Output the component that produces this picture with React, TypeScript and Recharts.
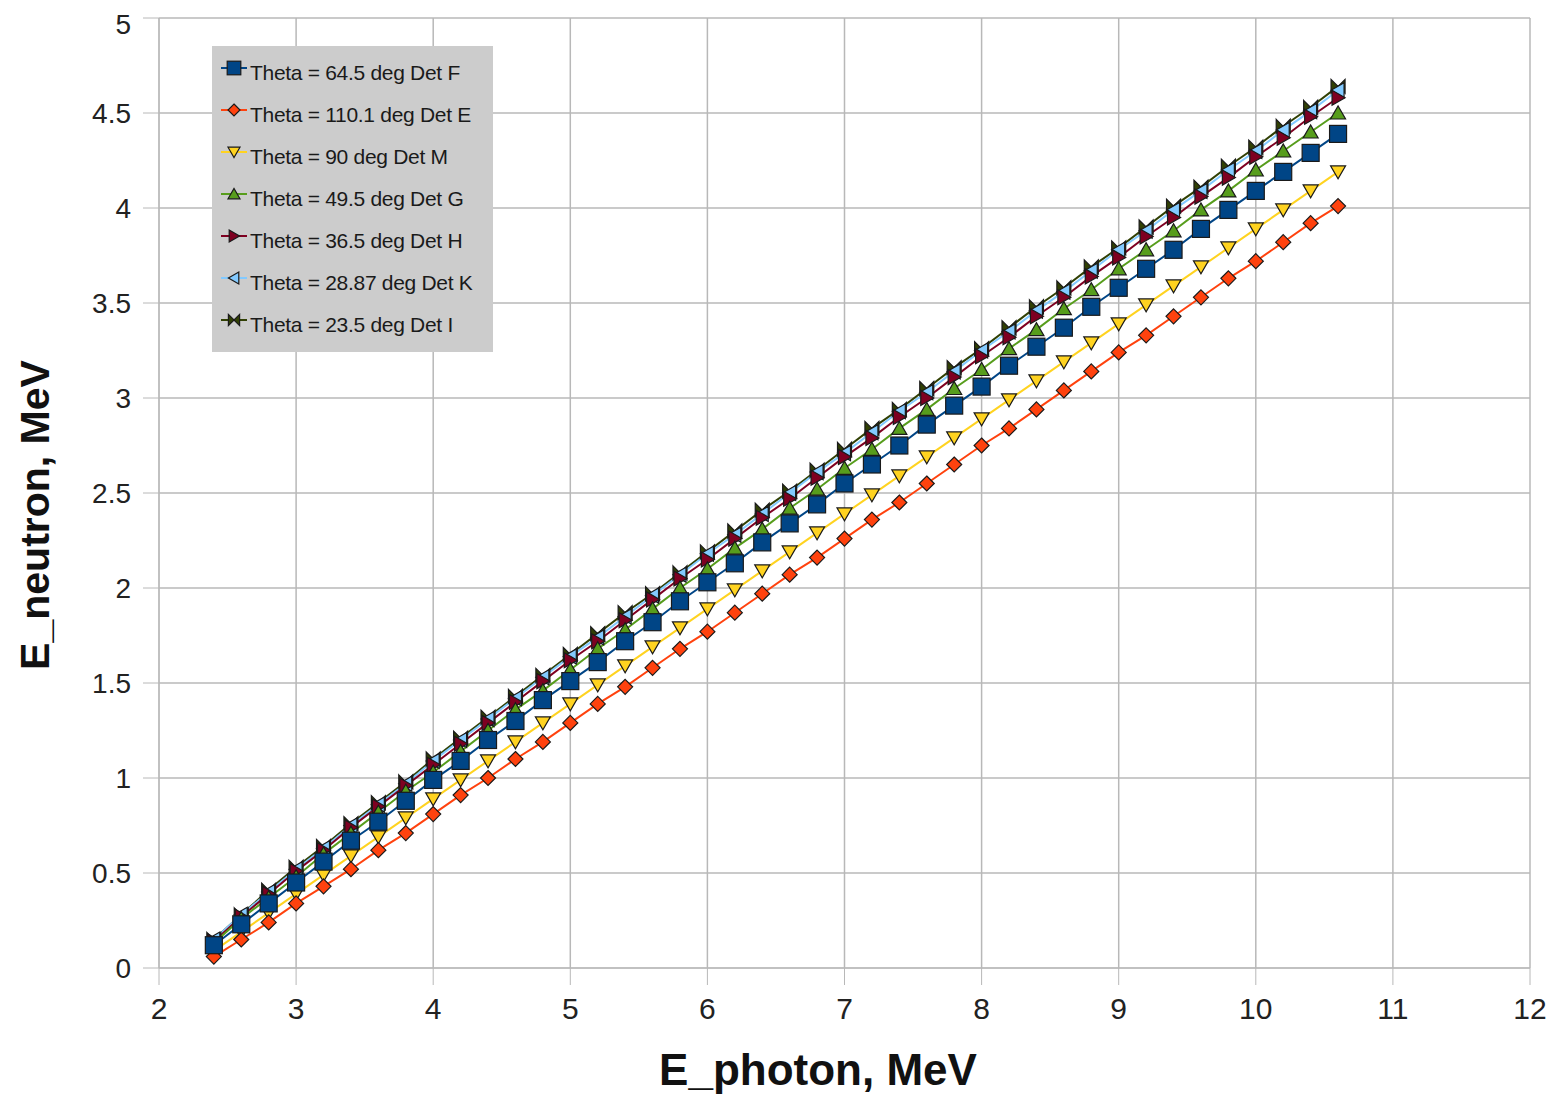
import React from 'react';
import { LineChart, Line, XAxis, YAxis, CartesianGrid } from 'recharts';

// photon energy, MeV
const ePhoton = [
  2.4, 2.6, 2.8, 3, 3.2, 3.4, 3.6, 3.8, 4, 4.2, 4.4, 4.6, 4.8, 5, 5.2, 5.4, 5.6, 5.8, 6, 6.2, 6.4,
  6.6, 6.8, 7, 7.2, 7.4, 7.6, 7.8, 8, 8.2, 8.4, 8.6, 8.8, 9, 9.2, 9.4, 9.6, 9.8, 10, 10.2, 10.4, 10.6
];

// neutron energy, MeV, one list per detector
const detF = [
  0.12, 0.23, 0.34, 0.45, 0.56, 0.67, 0.77, 0.88, 0.99, 1.09, 1.2, 1.3, 1.41, 1.51, 1.61, 1.72, 1.82, 1.93, 2.03, 2.13, 2.24,
  2.34, 2.44, 2.55, 2.65, 2.75, 2.86, 2.96, 3.06, 3.17, 3.27, 3.37, 3.48, 3.58, 3.68, 3.78, 3.89, 3.99, 4.09, 4.19, 4.29, 4.39
];
const detE = [
  0.06, 0.15, 0.24, 0.34, 0.43, 0.52, 0.62, 0.71, 0.81, 0.91, 1.0, 1.1, 1.19, 1.29, 1.39, 1.48, 1.58, 1.68, 1.77, 1.87, 1.97,
  2.07, 2.16, 2.26, 2.36, 2.45, 2.55, 2.65, 2.75, 2.84, 2.94, 3.04, 3.14, 3.24, 3.33, 3.43, 3.53, 3.63, 3.72, 3.82, 3.92, 4.01
];
const detM = [
  0.09, 0.19, 0.29, 0.39, 0.49, 0.59, 0.69, 0.79, 0.89, 0.99, 1.09, 1.19, 1.29, 1.39, 1.49, 1.59, 1.69, 1.79, 1.89, 1.99, 2.09,
  2.19, 2.29, 2.39, 2.49, 2.59, 2.69, 2.79, 2.89, 2.99, 3.09, 3.19, 3.29, 3.39, 3.49, 3.59, 3.69, 3.79, 3.89, 3.99, 4.09, 4.19
];
const detG = [
  0.13, 0.26, 0.37, 0.48, 0.6, 0.71, 0.82, 0.93, 1.03, 1.14, 1.25, 1.36, 1.46, 1.57, 1.68, 1.78, 1.89, 2.0, 2.1, 2.21, 2.31,
  2.42, 2.52, 2.63, 2.73, 2.84, 2.94, 3.05, 3.15, 3.26, 3.36, 3.47, 3.57, 3.68, 3.78, 3.88, 3.99, 4.09, 4.2, 4.3, 4.4, 4.5
];
const detH = [
  0.14, 0.27, 0.39, 0.51, 0.62, 0.74, 0.85, 0.96, 1.07, 1.18, 1.29, 1.4, 1.51, 1.62, 1.72, 1.83, 1.94, 2.05, 2.15, 2.26, 2.37,
  2.47, 2.58, 2.69, 2.79, 2.9, 3.0, 3.11, 3.22, 3.32, 3.43, 3.53, 3.64, 3.74, 3.85, 3.95, 4.06, 4.16, 4.27, 4.37, 4.48, 4.58
];
const detK = [
  0.15, 0.28, 0.4, 0.52, 0.63, 0.75, 0.86, 0.97, 1.09, 1.2, 1.31, 1.42, 1.53, 1.64, 1.74, 1.85, 1.96, 2.07, 2.18, 2.28, 2.39,
  2.5, 2.61, 2.71, 2.82, 2.93, 3.03, 3.14, 3.25, 3.35, 3.46, 3.56, 3.67, 3.78, 3.88, 3.99, 4.09, 4.2, 4.3, 4.41, 4.51, 4.62
];
const detI = [
  0.15, 0.28, 0.41, 0.53, 0.64, 0.76, 0.87, 0.98, 1.1, 1.21, 1.32, 1.43, 1.54, 1.65, 1.76, 1.87, 1.97, 2.08, 2.19, 2.3, 2.41,
  2.51, 2.62, 2.73, 2.84, 2.94, 3.05, 3.16, 3.26, 3.37, 3.48, 3.58, 3.69, 3.79, 3.9, 4.01, 4.11, 4.22, 4.32, 4.43, 4.53, 4.64
];

const xTicks = [2, 3, 4, 5, 6, 7, 8, 9, 10, 11, 12];
const yTicks = [0, 0.5, 1, 1.5, 2, 2.5, 3, 3.5, 4, 4.5, 5];

type Shape = 'square' | 'diamond' | 'down' | 'up' | 'right' | 'left' | 'bowtie';

// legend order
const series: { key: string; name: string; color: string; shape: Shape }[] = [
  { key: 'F', name: 'Theta = 64.5 deg Det F', color: '#004586', shape: 'square' },
  { key: 'E', name: 'Theta = 110.1 deg Det E', color: '#ff420e', shape: 'diamond' },
  { key: 'M', name: 'Theta = 90 deg Det M', color: '#ffd320', shape: 'down' },
  { key: 'G', name: 'Theta = 49.5 deg Det G', color: '#579d1c', shape: 'up' },
  { key: 'H', name: 'Theta = 36.5 deg Det H', color: '#7e0021', shape: 'right' },
  { key: 'K', name: 'Theta = 28.87 deg Det K', color: '#83caff', shape: 'left' },
  { key: 'I', name: 'Theta = 23.5 deg Det I', color: '#314004', shape: 'bowtie' }
];

const data = ePhoton.map((x, i) => ({
  x,
  F: detF[i],
  E: detE[i],
  M: detM[i],
  G: detG[i],
  H: detH[i],
  K: detK[i],
  I: detI[i]
}));

const Marker = ({ cx, cy, shape, fill, s = 1 }: { cx: number; cy: number; shape: Shape; fill: string; s?: number }) => {
  const stroke = '#1a1a1a';
  const sw = 1.2;
  let pts: number[][] = [];
  switch (shape) {
    case 'square':
      return <rect x={cx - 8.5 * s} y={cy - 8.5 * s} width={17 * s} height={17 * s} fill={fill} stroke={stroke} strokeWidth={sw} />;
    case 'diamond':
      pts = [[0, -7.5], [7.5, 0], [0, 7.5], [-7.5, 0]];
      break;
    case 'down':
      pts = [[-7.5, -6], [7.5, -6], [0, 7]];
      break;
    case 'up':
      pts = [[-7.5, 6], [7.5, 6], [0, -7]];
      break;
    case 'right':
      pts = [[-6, -7.5], [-6, 7.5], [7, 0]];
      break;
    case 'left':
      pts = [[6, -7.5], [6, 7.5], [-7, 0]];
      break;
    case 'bowtie':
      pts = [[-7, -7], [0, 0], [7, -7], [7, 7], [0, 0], [-7, 7]];
      break;
  }
  return (
    <polygon
      points={pts.map(([a, b]) => `${cx + a * s},${cy + b * s}`).join(' ')}
      fill={fill}
      stroke={stroke}
      strokeWidth={sw}
      strokeLinejoin="miter"
    />
  );
};

const LegendBox = () => (
  <div
    style={{
      position: 'absolute',
      left: 204,
      top: 38,
      width: 281,
      height: 306,
      background: '#cccccc',
      boxSizing: 'border-box',
      paddingTop: 4
    }}
  >
    {series.map(s => (
      <div key={s.key} style={{ height: 42, position: 'relative' }}>
        <svg width={28} height={24} style={{ position: 'absolute', left: 8, top: 6 }}>
          <line x1={1} y1={12} x2={27} y2={12} stroke={s.color} strokeWidth={2} />
          <Marker cx={14} cy={12} shape={s.shape} fill={s.color} s={0.8} />
        </svg>
        <span
          style={{
            position: 'absolute',
            left: 38,
            top: 11,
            fontSize: 21,
            letterSpacing: -0.3,
            color: '#1a1a1a',
            whiteSpace: 'nowrap'
          }}
        >
          {s.name}
        </span>
      </div>
    ))}
  </div>
);

const App: React.FC = () => {
  return (
    <div style={{ position: 'relative', width: 1542, height: 1090, fontFamily: '"Liberation Sans", Arial, sans-serif' }}>
      <LineChart width={1542} height={1082} data={data} margin={{ top: 10, right: 20, bottom: 0, left: 0 }}>
        <CartesianGrid stroke="#b8b8b8" strokeWidth={1.5} />
        <XAxis
          dataKey="x"
          type="number"
          domain={[2, 12]}
          ticks={xTicks}
          height={122}
          tickSize={17}
          tickMargin={13}
          stroke="#b8b8b8"
          tick={{ fontSize: 30, fill: '#222222' }}
        />
        <YAxis
          type="number"
          domain={[0, 5]}
          ticks={yTicks}
          width={151}
          tickSize={16}
          tickMargin={12}
          stroke="#b8b8b8"
          tick={{ fontSize: 28, fill: '#222222' }}
        />
        {[...series].reverse().map(s => (
          <Line
            key={s.key}
            type="linear"
            dataKey={s.key}
            name={s.name}
            stroke={s.color}
            strokeWidth={2}
            isAnimationActive={false}
            dot={(p: any) => <Marker key={`${s.key}-${p.index}`} cx={p.cx} cy={p.cy} shape={s.shape} fill={s.color} />}
            activeDot={false}
          />
        ))}
      </LineChart>
      <LegendBox />
      <div
        style={{
          position: 'absolute',
          left: 810,
          top: 1062,
          transform: 'translate(-50%, -50%)',
          fontSize: 44,
          lineHeight: 1,
          fontWeight: 'bold',
          whiteSpace: 'nowrap',
          color: '#111'
        }}
      >
        E_photon, MeV
      </div>
      <div
        style={{
          position: 'absolute',
          left: 27,
          top: 507,
          transform: 'translate(-50%, -50%) rotate(-90deg)',
          fontSize: 41,
          lineHeight: 1,
          fontWeight: 'bold',
          whiteSpace: 'nowrap',
          color: '#111'
        }}
      >
        E_neutron, MeV
      </div>
    </div>
  );
};

export default App;
